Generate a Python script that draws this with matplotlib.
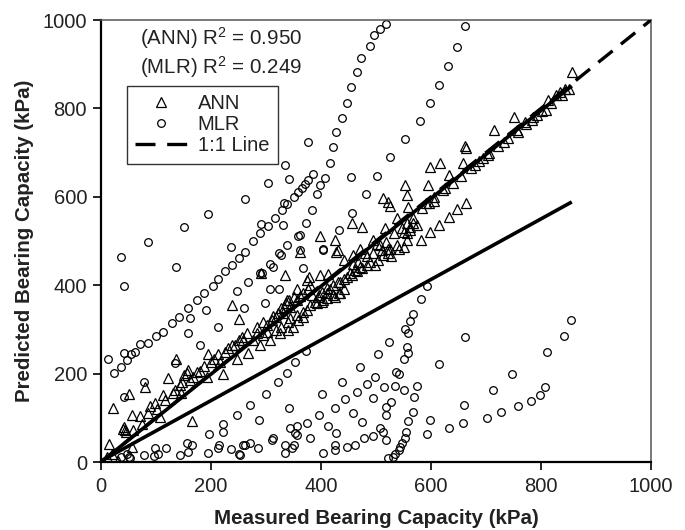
import matplotlib
matplotlib.use("Agg")
import matplotlib.pyplot as plt
from matplotlib.lines import Line2D
import numpy as np

plt.rcParams['font.family'] = ['Liberation Sans', 'DejaVu Sans']
plt.rcParams['mathtext.fontset'] = 'custom'
plt.rcParams['mathtext.rm'] = 'Liberation Sans'
plt.rcParams['mathtext.it'] = 'Liberation Sans:italic'

# ---------------- data (kPa) ----------------
ann_points = [
    (10,12),(20,18),(30,3),(14,40),(21,123),(40,75),(42,80),(44,72),(46,68),(50,154),(56,35),(57,106),
    (59,72),(71,104),(74,87),(80,170),(85,110),(89,127),(99,133),(101,121),(107,101),(113,152),(116,140),
    (122,191),(130,157),(134,163),(137,234),(144,174),(145,155),(148,182),(151,197),(156,202),(159,208),
    (162,185),(165,93),(168,193),(174,204),(180,207),(188,217),(192,193),(195,244),(200,227),(206,234),
    (212,244),(216,227),(222,199),(225,250),(230,257),(239,265),(244,265),(248,232),(251,277),(256,283),
    (259,276),(265,291),(268,246),(277,276),(283,291),(289,265),(295,287),(301,295),(308,276),(325,291),
    (340,298),(283,306),(295,317),(301,310),(310,321),(319,299),(319,329),(328,306),(328,348),(331,336),
    (337,359),(340,317),(342,366),(349,306),(350,374),(356,391),(359,321),(361,376),(368,329),(368,383),
    (374,345),(377,391),(380,400),(383,378),(392,359),(397,378),(404,366),(411,382),(416,391),(422,400),
    (425,374),(431,408),(433,383),(441,413),(441,391),(447,419),(456,423),(459,449),(465,431),(474,438),
    (483,446),(489,453),(238,355),(250,323),(335,423),(379,418),(398,423),(412,425),(361,476),(428,476),
    (291,427),(313,330),(322,336),(332,351),(344,351),(338,367),(356,367),(344,325),(356,333),(368,340),
    (380,355),(389,363),(395,374),(401,385),(410,393),(435,408),(453,427),(462,434),(401,363),(410,370),
    (422,378),(435,382),(374,412),(471,442),(498,446),(441,457),(459,468),(468,453),(471,483),(480,472),
    (483,465),(495,472),(504,457),(513,468),(522,472),(528,465),(495,502),(507,491),(519,498),(525,483),
    (538,491),(550,487),(556,502),(516,529),(532,517),(550,521),(562,525),(581,502),(538,551),(556,540),
    (568,540),(574,536),(568,551),(456,541),(474,532),(398,511),(425,502),(430,480),(513,597),(522,589),
    (525,579),(556,604),(559,578),(583,574),(813,819),(809,796),(801,793),(783,774),(786,781),(750,781),
    (759,747),(732,725),(715,751),(704,695),(694,687),(662,715),(664,710),(658,676),(616,677),(599,668),
    (633,649),(594,627),(552,627),(597,585),(664,587),(647,572),(632,555),(615,536),(598,521),(501,493),
    (510,480),(522,481),(541,483),(556,517),(562,532),(547,529),(856,883),(844,843),(828,830),(834,838),
    (850,845),(792,785),(590,585),(605,600),(622,615),(640,632),(655,648),(672,666),(688,680),(705,700),
    (722,716),(740,733),(757,752),(772,765),(818,812),(838,830),(605,590),(625,620),(680,672),(770,770),
]

mlr_points = [
    (13,232),(24,201),(36,216),(42,247),(48,231),(54,244),(62,250),(70,266),(85,270),(100,285),(113,295),
    (159,291),(180,265),(134,223),(79,182),(41,148),(50,12),(53,8),(47,18),(37,12),(79,16),(98,31),(97,14),
    (104,18),(119,31),(144,16),(157,42),(165,39),(159,23),(194,21),(196,63),(212,31),(214,38),(222,69),
    (222,86),(237,29),(250,18),(247,106),(259,38),(373,252),(353,226),(338,202),(321,180),(300,153),
    (271,129),(288,94),(341,123),(401,154),(397,106),(412,82),(425,123),(439,182),(444,142),(458,110),
    (465,159),(470,216),(483,177),(474,90),(495,144),(498,193),(504,244),(515,169),(519,125),(519,106),
    (507,76),(513,69),(519,50),(522,8),(524,272),(374,89),(380,54),(427,65),(356,82),(353,65),(356,61),
    (344,76),(347,31),(335,39),(335,20),(350,39),(312,54),(310,50),(286,31),(262,39),(270,42),(253,16),
    (404,20),(425,39),(425,27),(447,35),(462,39),(478,54),(494,59),(593,398),(582,368),(567,335),(561,320),
    (553,301),(559,291),(556,261),(559,246),(550,232),(536,204),(542,198),(535,172),(551,163),(574,172),
    (569,146),(528,135),(567,112),(559,93),(598,95),(592,63),(633,76),(658,89),(660,129),(662,282),
    (614,222),(747,198),(713,163),(701,99),(728,112),(759,127),(782,139),(798,152),(807,169),(811,248),
    (841,285),(854,321),(555,69),(553,54),(548,42),(544,33),(541,27),(535,18),(530,12),(36,464),(41,398),
    (136,442),(129,315),(142,329),(159,348),(175,366),(188,382),(204,398),(212,415),(225,431),(238,446),
    (250,461),(262,476),(161,325),(191,345),(212,305),(247,388),(260,348),(268,408),(289,428),(292,427),
    (307,448),(313,442),(324,473),(327,468),(307,391),(324,391),(298,359),(367,438),(403,480),(335,673),
    (304,632),(342,640),(261,596),(195,562),(150,531),(86,497),(236,487),(386,651),(377,638),(371,629),
    (365,621),(359,611),(350,599),(338,583),(333,586),(329,570),(316,551),(304,534),(291,538),(289,517),
    (277,500),(330,536),(358,511),(339,491),(489,942),(473,915),(465,882),(454,849),(447,813),(438,779),
    (427,747),(422,713),(416,676),(377,723),(398,627),(407,642),(393,606),(383,570),(373,541),(362,514),
    (362,480),(454,644),(502,647),(481,606),(457,564),(433,525),(403,483),(647,940),(630,896),(615,853),
    (598,813),(580,772),(553,730),(525,689),(497,965),(507,979),(518,992),(662,986),
]

ann_measured = [p[0] for p in ann_points]
ann_predicted = [p[1] for p in ann_points]
mlr_measured = [p[0] for p in mlr_points]
mlr_predicted = [p[1] for p in mlr_points]

ann_fit = (0.994, 0.0)      # slope, intercept
mlr_fit = (0.685, 2.0)
fit_range = [3, 856]
one_to_one = [0, 1000]

ann_r2 = "0.950"
mlr_r2 = "0.249"
ticks = [0, 200, 400, 600, 800, 1000]

# ---------------- figure ----------------
fig = plt.figure(figsize=(6.85, 5.3), dpi=100)
ax = fig.add_axes([101/685, 1-462/530, 550/685, 442/530])

ax.plot(ann_measured, ann_predicted, linestyle='none', marker='^', markersize=6.6,
        markerfacecolor='none', markeredgecolor='black', markeredgewidth=0.9, zorder=2)
ax.plot(mlr_measured, mlr_predicted, linestyle='none', marker='o', markersize=5.5,
        markerfacecolor='none', markeredgecolor='black', markeredgewidth=0.9, zorder=2)

dash = (0, (5.5, 3.2))
ax.plot(one_to_one, one_to_one, color='black', lw=2.4, linestyle=dash, zorder=3)
fx = np.array(fit_range, dtype=float)
ax.plot(fx, ann_fit[0]*fx + ann_fit[1], color='black', lw=2.6, zorder=4, solid_capstyle='butt')
ax.plot(fx, mlr_fit[0]*fx + mlr_fit[1], color='black', lw=2.6, zorder=4, solid_capstyle='butt')

ax.set_xlim(0, 1000)
ax.set_ylim(0, 1000)
ax.set_xticks(ticks)
ax.set_yticks(ticks)
ax.tick_params(direction='out', length=6, width=1.2, labelsize=14.5, colors='black')
ax.tick_params(axis='x', pad=5)
ax.tick_params(axis='y', pad=4)
for lab in ax.get_xticklabels() + ax.get_yticklabels():
    lab.set_color('#222222')
for s in ['left', 'bottom']:
    ax.spines[s].set_linewidth(1.6)
    ax.spines[s].set_color('black')
for s in ['top', 'right']:
    ax.spines[s].set_linewidth(1.1)
    ax.spines[s].set_color('#555555')

ax.set_xlabel('Measured Bearing Capacity (kPa)', fontsize=14.8, fontweight='bold',
              labelpad=9, color='#222222')
ax.set_ylabel('Predicted Bearing Capacity (kPa)', fontsize=14.8, fontweight='bold',
              labelpad=6, color='#222222')

ax.text(219, 959, '(ANN) R$^{2}$ = ' + ann_r2, ha='center', va='center', fontsize=14.8,
        color='#222222')
ax.text(219, 894, '(MLR) R$^{2}$ = ' + mlr_r2, ha='center', va='center', fontsize=14.8,
        color='#222222')

handles = [
    Line2D([], [], linestyle='none', marker='^', markersize=6.6, markerfacecolor='none',
           markeredgecolor='black', markeredgewidth=0.9),
    Line2D([], [], linestyle='none', marker='o', markersize=5.5, markerfacecolor='none',
           markeredgecolor='black', markeredgewidth=0.9),
    Line2D([], [], color='black', lw=2.4, linestyle=(0, (6, 3.5))),
]
leg = ax.legend(handles, ['ANN', 'MLR', '1:1 Line'], loc='upper left',
                bbox_to_anchor=(0.0467, 0.8507), borderaxespad=0, fontsize=14.5,
                frameon=True, fancybox=False, edgecolor='black', handlelength=2.6,
                handletextpad=0.5, labelspacing=0.1, borderpad=0.42)
leg.get_frame().set_linewidth(1.0)
for t in leg.get_texts():
    t.set_color('#222222')

fig.savefig('out.png', dpi=100)
